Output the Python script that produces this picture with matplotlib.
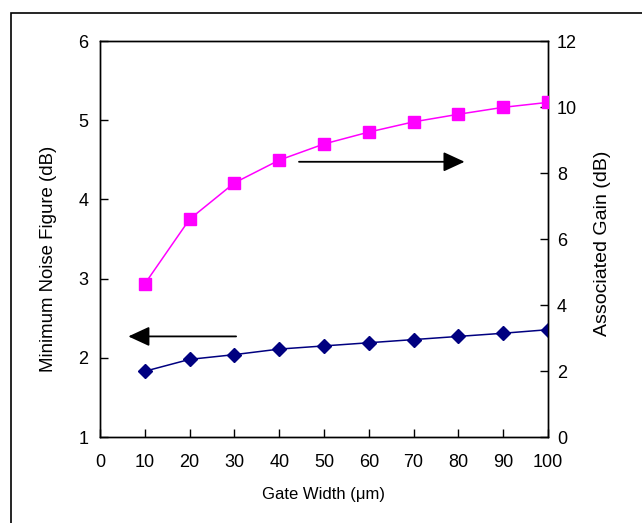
import matplotlib
matplotlib.use("Agg")
import matplotlib.pyplot as plt
from matplotlib.patches import Rectangle

plt.rcParams['font.family'] = ['Liberation Sans', 'DejaVu Sans']

gate_width = [10, 20, 30, 40, 50, 60, 70, 80, 90, 100]
min_nf = [1.83, 1.98, 2.04, 2.11, 2.15, 2.19, 2.23, 2.27, 2.31, 2.355]
assoc_gain = [4.64, 6.60, 7.70, 8.39, 8.88, 9.24, 9.55, 9.78, 9.99, 10.14]

W, H = 642, 523
fig = plt.figure(figsize=(W/100, H/100), dpi=100)
ax = fig.add_axes([100/W, 1-437/H, 448/W, 396/H])
ax2 = ax.twinx()

ax.plot(gate_width, min_nf, color='#000080', marker='D', markersize=7, lw=1.1, zorder=3)
ax2.plot(gate_width, assoc_gain, color='#FF00FF', marker='s', markersize=8, lw=1.1, zorder=3)

ax.set_xlim(0, 100)
ax.set_ylim(1, 6)
ax2.set_ylim(0, 12)
ax.set_xticks(range(0, 101, 10))
ax.set_yticks(range(1, 7))
ax2.set_yticks(range(0, 13, 2))

for a in (ax, ax2):
    a.tick_params(direction='in', length=6, width=1, labelsize=13)
    for s in a.spines.values():
        s.set_linewidth(1)
ax.tick_params(axis='x', pad=12)
ax.tick_params(axis='y', pad=8.5)
ax2.tick_params(axis='y', pad=6.5)

ax.set_xlabel('Gate Width (\u03bcm)', fontsize=12, labelpad=12)
ax.set_ylabel('Minimum Noise Figure (dB)', fontsize=13.4, labelpad=15)
ax2.set_ylabel('Associated Gain (dB)', fontsize=14, labelpad=12)
ax.yaxis.label.set_y(0.449)
ax2.yaxis.label.set_y(0.489)

style = '-|>,head_length=1.3,head_width=0.6'
ax2.annotate('', xy=(82, 8.34), xytext=(43.8, 8.34),
             arrowprops=dict(arrowstyle=style, color='black', lw=1.3))
ax.annotate('', xy=(5.7, 2.27), xytext=(31, 2.27),
            arrowprops=dict(arrowstyle=style, color='black', lw=1.3))

fig.patches.append(Rectangle((11/W, -0.1), 1.2, 1-13/H+0.1, transform=fig.transFigure,
                             fill=False, edgecolor='black', lw=1.2))

fig.savefig('out.png', dpi=100)
